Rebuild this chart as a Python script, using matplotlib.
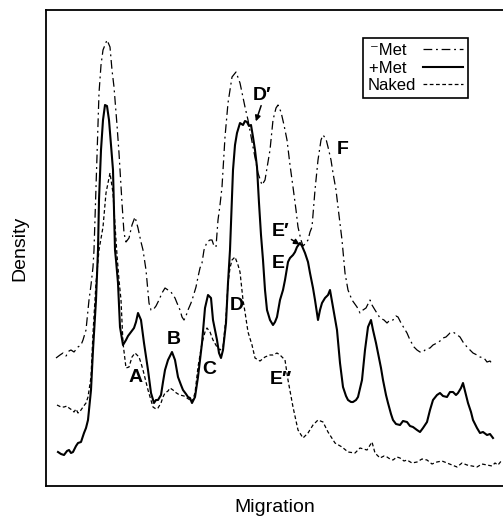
#!/usr/bin/env python3
"""
plot.py — densitometer traces of the footprint gel (-Met, +Met, Naked DNA)
saved as out.png
"""

import matplotlib
matplotlib.use("Agg")  # no display
import numpy as np
import matplotlib.pyplot as plt

plt.rcParams["font.family"] = ["Liberation Sans", "DejaVu Sans"]

# ─── Data (arbitrary units) ──────────────────────────────────────────────────
MINUS_MET_X = [10, 14, 17, 20, 23, 25, 28, 32, 35, 37, 40, 43, 45, 47, 48, 50, 53, 55, 57,
               61, 64, 66, 68, 71, 73, 76, 78, 80, 83, 86, 89, 92, 95, 97, 100, 103, 105,
               107, 110, 113, 116, 119, 122, 125, 129, 131, 134, 136, 138, 140, 142, 145,
               147, 150, 152, 154, 156, 158, 161, 164, 166, 168, 170, 172, 174, 176, 179,
               182, 186, 190, 194, 199, 202, 207, 212, 216, 219, 224, 227, 230, 232, 235,
               238, 241, 244, 247, 250, 252, 255, 257, 260, 262, 264, 266, 269, 272, 275,
               277, 280, 282, 285, 287, 290, 292, 296, 299, 302, 306, 311, 314, 317, 320,
               324, 326, 329, 334, 338, 341, 344, 347, 350, 352, 355, 358, 361, 364, 368,
               371, 374, 377, 380, 384, 387, 391, 394, 397, 400, 404, 407, 410, 414, 417,
               421, 424, 427, 431, 434, 438, 441, 444, 447]
MINUS_MET_Y = [128, 131, 133, 130, 135, 136, 134, 139, 141, 146, 156, 186, 201, 219, 236, 299,
               393, 421, 436, 446, 439, 416, 399, 361, 333, 283, 253, 244, 248, 261, 269, 258,
               244, 236, 216, 183, 176, 176, 180, 186, 193, 198, 196, 194, 188, 183, 176,
               169, 166, 170, 176, 183, 189, 199, 209, 218, 223, 236, 244, 246, 246, 240,
               239, 266, 281, 299, 349, 383, 409, 414, 403, 379, 366, 339, 313, 301, 306,
               336, 366, 378, 381, 374, 361, 346, 321, 299, 276, 259, 246, 240, 243, 246,
               254, 259, 296, 326, 346, 351, 347, 339, 326, 313, 296, 279, 246, 213, 196,
               186, 179, 173, 176, 178, 186, 181, 176, 168, 166, 163, 166, 166, 170, 169,
               163, 158, 153, 146, 139, 136, 134, 134, 137, 138, 141, 143, 145, 148, 149,
               153, 154, 152, 149, 144, 139, 136, 133, 131, 129, 128, 124, 125, 121]

PLUS_MET_X = [12, 15, 18, 21, 23, 25, 27, 30, 32, 35, 38, 40, 42, 45, 47, 50, 52, 53, 55, 57,
              59, 61, 63, 65, 67, 69, 70, 72, 74, 77, 80, 82, 85, 88, 90, 92, 95, 98, 102,
              105, 108, 110, 112, 115, 117, 119, 122, 126, 129, 132, 135, 137, 140, 142,
              144, 146, 149, 152, 156, 159, 162, 165, 167, 169, 171, 173, 175, 177, 180,
              182, 184, 187, 189, 191, 194, 197, 199, 201, 203, 205, 207, 209, 211, 213,
              215, 217, 219, 221, 224, 227, 229, 231, 234, 237, 239, 242, 244, 247, 249,
              251, 254, 256, 259, 262, 264, 267, 269, 272, 274, 276, 279, 282, 284, 287,
              291, 294, 297, 300, 302, 305, 307, 310, 312, 316, 319, 322, 325, 327, 330,
              332, 335, 337, 340, 342, 345, 347, 350, 354, 357, 361, 364, 367, 371, 374,
              377, 381, 384, 387, 391, 394, 397, 401, 404, 407, 410, 412, 415, 417, 420,
              422, 425, 427, 431, 434, 437, 441, 444, 447]
PLUS_MET_Y = [34, 32, 31, 35, 36, 33, 34, 40, 43, 44, 53, 58, 66, 96, 136, 186, 236, 286, 336,
              366, 381, 380, 366, 341, 316, 236, 226, 203, 159, 141, 146, 150, 154, 158,
              164, 173, 166, 143, 116, 93, 83, 86, 86, 91, 104, 116, 126, 134, 126, 109,
              101, 96, 92, 89, 88, 83, 89, 109, 143, 178, 191, 188, 166, 156, 146, 133,
              128, 136, 163, 203, 236, 316, 341, 353, 363, 361, 365, 364, 360, 361, 349,
              336, 319, 283, 251, 226, 196, 176, 166, 161, 164, 169, 186, 196, 206, 224,
              228, 231, 234, 239, 243, 240, 233, 224, 213, 198, 186, 166, 176, 183, 188,
              191, 196, 179, 156, 123, 99, 90, 86, 84, 84, 86, 89, 106, 136, 159, 166,
              156, 143, 133, 118, 106, 91, 83, 72, 66, 62, 61, 65, 64, 60, 59, 56, 54, 58,
              64, 76, 86, 91, 93, 90, 89, 94, 94, 91, 93, 98, 103, 91, 83, 74, 66, 58, 53,
              54, 51, 52, 48]

NAKED_X = [11, 15, 18, 21, 23, 26, 28, 30, 32, 35, 37, 40, 42, 45, 47, 50, 53, 57, 60, 64,
           67, 69, 71, 73, 75, 77, 80, 83, 86, 89, 91, 93, 95, 97, 100, 102, 105, 107, 110,
           112, 115, 117, 119, 122, 124, 127, 129, 132, 134, 138, 141, 144, 146, 149, 152,
           156, 159, 161, 164, 167, 171, 174, 177, 180, 182, 184, 186, 189, 192, 194, 197,
           199, 202, 206, 209, 214, 219, 224, 227, 231, 234, 239, 242, 247, 252, 257, 262,
           267, 272, 277, 282, 289, 296, 302, 309, 314, 321, 326, 329, 334, 338, 341, 344,
           347, 351, 354, 358, 361, 366, 371, 376, 381, 386, 391, 396, 401, 406, 411, 416,
           421, 426, 431, 436, 441, 446, 449, 452, 456]
NAKED_Y = [81, 79, 79, 80, 78, 76, 74, 77, 73, 76, 79, 83, 89, 109, 153, 203, 236, 259, 293,
           313, 293, 261, 231, 206, 186, 143, 118, 119, 129, 133, 131, 129, 123, 116, 104,
           96, 86, 79, 77, 78, 83, 89, 93, 95, 98, 96, 94, 92, 91, 90, 88, 86, 84, 93, 119,
           143, 154, 158, 154, 146, 139, 136, 139, 169, 203, 218, 226, 229, 221, 214, 186,
           174, 154, 141, 128, 125, 129, 131, 131, 133, 131, 126, 106, 79, 56, 48, 53, 61,
           66, 64, 54, 43, 39, 34, 33, 38, 36, 44, 33, 28, 30, 29, 27, 26, 29, 28, 25, 26,
           23, 24, 27, 26, 22, 24, 25, 23, 21, 19, 23, 21, 20, 19, 22, 21, 20, 23, 21, 26]

# a trailing space pushes the shorter labels left so they sit roughly centred
SERIES = [
    ("\u207bMet  ", MINUS_MET_X, MINUS_MET_Y, dict(lw=0.9, dashes=(7, 3, 1.5, 3))),
    ("+Met  ",      PLUS_MET_X,  PLUS_MET_Y,  dict(lw=1.5, linestyle="-")),
    ("Naked",       NAKED_X,     NAKED_Y,     dict(lw=0.9, dashes=(3, 2))),
]

# band labels: (text, x, y)
BANDS = [("A", 83, 108), ("B", 121, 146), ("C", 156, 116), ("D", 184, 180),
         ("E\u2033", 224, 106), ("E", 226, 222), ("E\u2032", 226, 255),
         ("D\u2032", 207, 391), ("F", 291, 336)]

# ─── Figure ───────────────────────────────────────────────────────────────────
W, H = 503, 516
fig = plt.figure(figsize=(W / 100, H / 100), dpi=100)
ax = fig.add_axes([46 / W, 30 / H, 457 / W, 476 / H])

for label, xs, ys, style in SERIES:
    ax.plot(np.array(xs), np.array(ys), color="black", label=label, **style)

for txt, x, y in BANDS:
    ax.text(x, y, txt, ha="left", va="center", fontsize=14, fontweight="bold")

# arrows for D' and E'
ax.annotate("", xy=(209, 362), xytext=(216, 383),
            arrowprops=dict(arrowstyle="-|>", color="black", lw=1.1, mutation_scale=8))
ax.annotate("", xy=(256, 240), xytext=(243, 248),
            arrowprops=dict(arrowstyle="-|>", color="black", lw=1.1, mutation_scale=8))

ax.set_xlim(0, 457)
ax.set_ylim(0, 476)
ax.set_xticks([])
ax.set_yticks([])
ax.spines["right"].set_visible(False)
for side in ("left", "top", "bottom"):
    ax.spines[side].set_linewidth(1.3)

ax.set_xlabel("Migration", fontsize=14, labelpad=9)
ax.set_ylabel("Density", fontsize=14, labelpad=13)

leg = ax.legend(loc="upper right", bbox_to_anchor=(0.923, 0.941), borderaxespad=0,
                markerfirst=False, fontsize=12, handlelength=2.4, handletextpad=0.4,
                labelspacing=0.15, borderpad=0.3, fancybox=False, framealpha=1)
leg.get_frame().set_edgecolor("black")
leg.get_frame().set_linewidth(1.2)

fig.savefig("out.png", dpi=100)
print("Saved out.png")
